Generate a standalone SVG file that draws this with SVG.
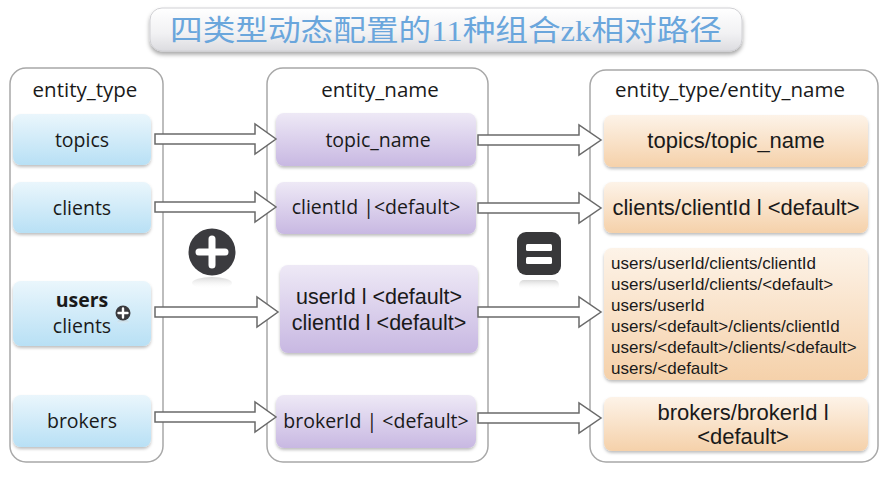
<svg xmlns="http://www.w3.org/2000/svg" width="883" height="479" viewBox="0 0 883 479">
<style>
.hdr{font-family:"Open Sans","DejaVu Sans",sans-serif;font-size:20.5px;fill:#1a1a1a;text-anchor:middle}
.lt{font-family:"Open Sans","Noto Sans",sans-serif;font-size:19.5px;fill:#1a1a1a;text-anchor:middle}
.hv{font-family:"Liberation Sans",Arial,sans-serif;fill:#1a1a1a}
.cont{fill:#fff;stroke:#a8a8a8;stroke-width:1.5}
.arrow{fill:#fff;stroke:#6a6a6a;stroke-width:1.5;stroke-linejoin:miter}
</style>
<defs>
<linearGradient id="gBlue" x1="0" y1="0" x2="0" y2="1"><stop offset="0" stop-color="#eaf6fc"/><stop offset="1" stop-color="#b8e0f5"/></linearGradient>
<linearGradient id="gPurple" x1="0" y1="0" x2="0" y2="1"><stop offset="0" stop-color="#eee9f6"/><stop offset="1" stop-color="#c8b8e2"/></linearGradient>
<linearGradient id="gOrange" x1="0" y1="0" x2="0" y2="1"><stop offset="0" stop-color="#fdf3e8"/><stop offset="1" stop-color="#f5d1aa"/></linearGradient>
<linearGradient id="gTitle" x1="0" y1="0" x2="0" y2="1"><stop offset="0" stop-color="#ffffff"/><stop offset="0.6" stop-color="#f1f1f3"/><stop offset="1" stop-color="#dcdce0"/></linearGradient>
<linearGradient id="gRefl" x1="0" y1="0" x2="0" y2="1"><stop offset="0" stop-color="#bdbdbd" stop-opacity="0.6"/><stop offset="1" stop-color="#ffffff" stop-opacity="0"/></linearGradient>
<filter id="sh" x="-10%" y="-10%" width="120%" height="130%"><feDropShadow dx="0" dy="2" stdDeviation="1.5" flood-color="#000" flood-opacity="0.25"/></filter>
<filter id="shT" x="-5%" y="-20%" width="110%" height="150%"><feDropShadow dx="0" dy="3" stdDeviation="2" flood-color="#000" flood-opacity="0.35"/></filter>
</defs>
<rect width="883" height="479" fill="#fff"/>

<g id="title">
<rect x="150" y="8" width="592" height="43" rx="12" fill="url(#gTitle)" stroke="#d0d0d4" stroke-width="1" filter="url(#shT)"/>
<text x="446" y="41" font-family="'Liberation Serif','Noto Sans CJK SC',serif" font-size="29" fill="#6aa6dc" text-anchor="middle" textLength="552" lengthAdjust="spacingAndGlyphs">四类型动态配置的11种组合zk相对路径</text>
</g>

<g id="col-entity-type">
<rect class="cont" x="10" y="68" width="153" height="394" rx="16"/>
<text class="hdr" x="85" y="97">entity_type</text>
</g>
<g id="col-entity-name">
<rect class="cont" x="267" y="68" width="221" height="394" rx="16"/>
<text class="hdr" x="380" y="97">entity_name</text>
</g>
<g id="col-path">
<rect class="cont" x="590" y="70" width="288" height="392" rx="16"/>
<text class="hdr" x="730" y="97" font-size="19.8">entity_type/entity_name</text>
</g>

<g id="node-topics"><rect x="13" y="114" width="138" height="51" rx="8" fill="url(#gBlue)" filter="url(#sh)"/><text class="lt" x="82" y="147">topics</text></g>
<g id="node-clients"><rect x="13" y="182" width="138" height="51" rx="8" fill="url(#gBlue)" filter="url(#sh)"/><text class="lt" x="82" y="215">clients</text></g>
<g id="node-users-clients"><rect x="13" y="281" width="138" height="65" rx="8" fill="url(#gBlue)" filter="url(#sh)"/>
<text class="lt" x="82" y="307" font-weight="bold" font-size="18">users</text>
<text class="lt" x="82" y="333" font-size="18.5">clients</text>
<ellipse cx="123" cy="322" rx="6" ry="2" fill="url(#gRefl)"/>
<circle cx="123" cy="313" r="7.5" fill="#3a3a3e"/>
<path d="M123,308.5V317.5M118.5,313H127.5" stroke="#fff" stroke-width="2.4" stroke-linecap="round"/>
</g>
<g id="node-brokers"><rect x="13" y="395" width="138" height="52" rx="8" fill="url(#gBlue)" filter="url(#sh)"/><text class="lt" x="82" y="428">brokers</text></g>

<g id="node-topic-name"><rect x="276" y="113" width="200" height="53" rx="8" fill="url(#gPurple)" filter="url(#sh)"/><text class="lt" x="378" y="147">topic_name</text></g>
<g id="node-clientid"><rect x="276" y="182" width="200" height="52" rx="8" fill="url(#gPurple)" filter="url(#sh)"/><text class="lt" x="376" y="214" font-size="18">clientId |&lt;default&gt;</text></g>
<g id="node-userid"><rect x="280" y="265" width="198" height="88" rx="8" fill="url(#gPurple)" filter="url(#sh)"/>
<text class="hv" x="379" y="304" font-size="21.5" text-anchor="middle">userId l &lt;default&gt;</text>
<text class="hv" x="379" y="330" font-size="21.5" text-anchor="middle">clientId l &lt;default&gt;</text></g>
<g id="node-brokerid"><rect x="276" y="395" width="200" height="53" rx="8" fill="url(#gPurple)" filter="url(#sh)"/><text class="lt" x="376" y="428" font-size="18">brokerId | &lt;default&gt;</text></g>

<g id="node-path-topics"><rect x="604" y="115" width="264" height="52" rx="8" fill="url(#gOrange)" filter="url(#sh)"/><text class="hv" x="736" y="148" font-size="22" text-anchor="middle">topics/topic_name</text></g>
<g id="node-path-clients"><rect x="604" y="182" width="264" height="51" rx="8" fill="url(#gOrange)" filter="url(#sh)"/><text class="hv" x="736" y="215" font-size="22" text-anchor="middle">clients/clientId l &lt;default&gt;</text></g>
<g id="node-path-users"><rect x="604" y="248" width="264" height="132" rx="8" fill="url(#gOrange)" filter="url(#sh)"/>
<text class="hv" font-size="17">
<tspan x="611" y="269">users/userId/clients/clientId</tspan>
<tspan x="611" y="290">users/userId/clients/&lt;default&gt;</tspan>
<tspan x="611" y="311">users/userId</tspan>
<tspan x="611" y="332">users/&lt;default&gt;/clients/clientId</tspan>
<tspan x="611" y="353">users/&lt;default&gt;/clients/&lt;default&gt;</tspan>
<tspan x="611" y="374">users/&lt;default&gt;</tspan>
</text></g>
<g id="node-path-brokers"><rect x="604" y="397" width="264" height="54" rx="8" fill="url(#gOrange)" filter="url(#sh)"/>
<text class="hv" x="743" y="420" font-size="22" text-anchor="middle">brokers/brokerId l</text>
<text class="hv" x="743" y="444" font-size="22" text-anchor="middle">&lt;default&gt;</text></g>

<g id="icon-plus">
<ellipse cx="212" cy="283" rx="20" ry="6" fill="url(#gRefl)"/>
<circle cx="212" cy="252" r="23.5" fill="#3b3b3f"/>
<path d="M212,239V265M199,252H225" stroke="#fff" stroke-width="7" stroke-linecap="round"/>
</g>
<g id="icon-equals">
<rect x="519" y="280" width="40" height="10" rx="5" fill="url(#gRefl)"/>
<rect x="517" y="232" width="44" height="43" rx="9" fill="#38383a"/>
<rect x="526" y="244" width="26" height="7" rx="1.5" fill="#fff"/>
<rect x="526" y="257" width="26" height="7" rx="1.5" fill="#fff"/>
</g>

<g id="connectors">
<path class="arrow" d="M155,134H255V124L276,139L255,154V144H155Z"/>
<path class="arrow" d="M155,202H255V192L276,207L255,222V212H155Z"/>
<path class="arrow" d="M155,307H257V297L278,312L257,327V317H155Z"/>
<path class="arrow" d="M155,412H255V402L276,417L255,432V422H155Z"/>
<path class="arrow" d="M478,135H579V125L601,140L579,155V145H478Z"/>
<path class="arrow" d="M478,203H579V193L601,208L579,223V213H478Z"/>
<path class="arrow" d="M478,307H579V297L601,312L579,327V317H478Z"/>
<path class="arrow" d="M478,413H579V403L601,418L579,433V423H478Z"/>
</g>
</svg>
